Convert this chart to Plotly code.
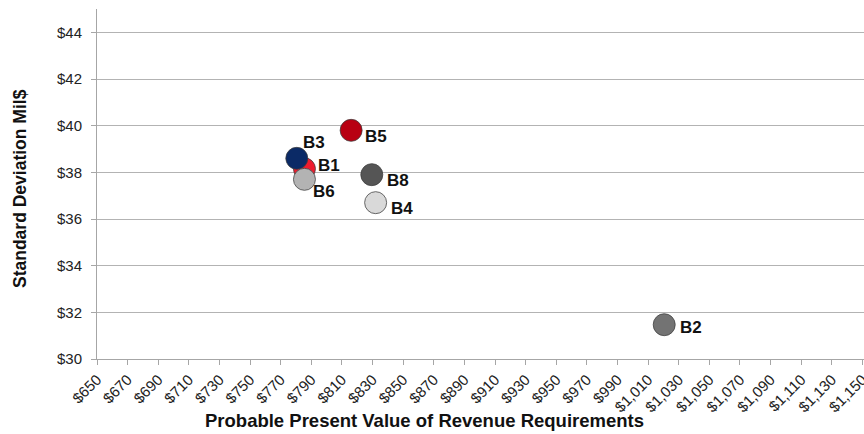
import plotly.graph_objects as go

# Data
labels = ["B1", "B2", "B3", "B4", "B5", "B6", "B8"]
ppvrr = [785.5, 1020.5, 780.5, 832.0, 816.0, 785.5, 829.5]
std_dev = [38.15, 31.47, 38.6, 36.7, 39.8, 37.7, 37.9]
colors = ["#ee1c2e", "#737373", "#0b2a66", "#d9d9d9", "#b80012", "#b3b3b3", "#555555"]
# label offsets in pixels (x, y) relative to marker centre
label_dx = [25, 26.5, 17, 26, 25, 20, 26]
label_dy = [-3, 3, -16, 6, 6, 12, 6]

y_ticks = [30, 32, 34, 36, 38, 40, 42, 44]
y_ticktext = ["$30", "$32", "$34", "$36", "$38", "$40", "$42", "$44"]

fig = go.Figure()
fig.add_trace(go.Scatter(
    x=ppvrr, y=std_dev, mode="markers",
    marker=dict(size=22, color=colors, line=dict(color="rgba(60,60,60,0.75)", width=1)),
    hoverinfo="skip", showlegend=False,
))

for lab, xv, yv, dx, dy in zip(labels, ppvrr, std_dev, label_dx, label_dy):
    fig.add_annotation(x=xv, y=yv, text=f"<b>{lab}</b>", showarrow=False,
                       xshift=dx, yshift=-dy, font=dict(size=17, color="#111"),
                       xanchor="center", yanchor="middle")

fig.add_annotation(x=(424 - 97) / 767, y=-(420 - 359) / 350, xref="paper", yref="paper",
                   text="<b>Probable Present Value of Revenue Requirements</b>",
                   showarrow=False, font=dict(size=18.5, color="#111"),
                   xanchor="center", yanchor="middle")
fig.add_annotation(x=-(97 - 20) / 767, y=(359 - 189) / 350, xref="paper", yref="paper",
                   text="<b>Standard Deviation Mil$</b>", textangle=-90,
                   showarrow=False, font=dict(size=17.5, color="#111"),
                   xanchor="center", yanchor="middle")

fig.update_layout(
    width=864, height=434,
    margin=dict(l=97, r=0, t=9, b=75),
    paper_bgcolor="white", plot_bgcolor="white",
    font=dict(family="Liberation Sans, Arial, sans-serif", color="#222"),
    xaxis=dict(range=[650, 1151], dtick=20, tick0=650, tickprefix="$", tickformat=",d",
               tickangle=-45, showgrid=False, zeroline=False,
               showline=True, linecolor="#a6a6a6", linewidth=1,
               ticks="outside", ticklen=5, tickcolor="#a6a6a6",
               ticklabeloverflow="allow",
               tickfont=dict(size=15), automargin=False),
    yaxis=dict(range=[30, 45], tickvals=y_ticks, ticktext=y_ticktext,
               showgrid=True, gridcolor="#b3b3b3", gridwidth=1, zeroline=False,
               showline=True, linecolor="#a6a6a6", linewidth=1,
               ticks="outside", ticklen=5, tickcolor="#a6a6a6",
               ticklabelstandoff=6,
               tickfont=dict(size=15), automargin=False),
)

fig.write_html("out.html", config={"displayModeBar": False},
               post_script="document.body.style.margin='0';document.body.style.padding='0';document.body.style.overflow='hidden';")
